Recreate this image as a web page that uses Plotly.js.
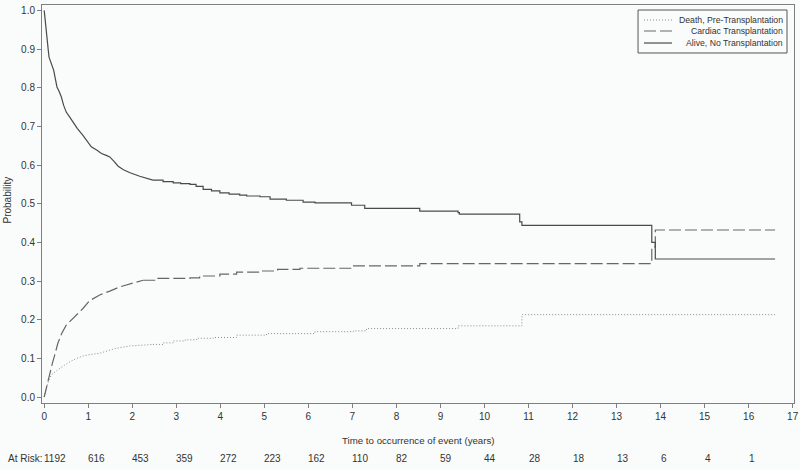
<!DOCTYPE html>
<html>
<head>
<meta charset="utf-8">
<script src="https://cdn.plot.ly/plotly-3.0.1.min.js"></script>
<style>html,body{margin:0;padding:0;background:#fafcfb;}#chart{width:800px;height:470px;}</style>
</head>
<body>
<div id="chart"></div>
<script>
// Alive, No Transplantation (solid)
const aliveT = [0, 0.03, 0.064, 0.09, 0.11, 0.16, 0.216, 0.25, 0.29, 0.34, 0.39, 0.44, 0.50, 0.58, 0.655, 0.75, 0.88, 0.96, 1.07, 1.2, 1.30, 1.41, 1.49, 1.58, 1.68, 1.8, 1.95, 2.17, 2.3, 2.47, 2.7, 2.93, 3.1, 3.31, 3.45, 3.61, 3.8, 3.99, 4.2, 4.44, 4.6, 4.90, 5.13, 5.5, 5.88, 6.15, 6.98, 7.28, 8.53, 9.40, 9.43, 10.80, 10.85, 13.80, 13.88, 16.6];
const aliveP = [1.0, 0.96, 0.931, 0.90, 0.879, 0.86, 0.845, 0.825, 0.802, 0.79, 0.776, 0.755, 0.737, 0.724, 0.711, 0.695, 0.677, 0.664, 0.647, 0.638, 0.630, 0.625, 0.621, 0.610, 0.597, 0.588, 0.580, 0.571, 0.566, 0.561, 0.557, 0.554, 0.552, 0.550, 0.545, 0.537, 0.533, 0.528, 0.525, 0.522, 0.520, 0.518, 0.512, 0.509, 0.504, 0.502, 0.496, 0.488, 0.481, 0.477, 0.473, 0.453, 0.444, 0.400, 0.357, 0.357];

// Cardiac Transplantation (dashed)
const cardT = [0, 0.03, 0.07, 0.125, 0.18, 0.24, 0.31, 0.4, 0.50, 0.58, 0.655, 0.77, 0.88, 1.03, 1.15, 1.26, 1.49, 1.72, 2.02, 2.25, 2.55, 3.31, 3.53, 3.99, 4.37, 4.90, 5.3, 5.81, 6.98, 8.53, 13.80, 13.88, 16.6];
const cardP = [0, 0.015, 0.035, 0.061, 0.085, 0.109, 0.139, 0.165, 0.186, 0.195, 0.203, 0.215, 0.229, 0.249, 0.257, 0.264, 0.274, 0.285, 0.295, 0.302, 0.307, 0.308, 0.313, 0.318, 0.323, 0.326, 0.330, 0.333, 0.339, 0.345, 0.388, 0.432, 0.432];

// Death, Pre-Transplantation (dotted)
const deathT = [0, 0.03, 0.08, 0.16, 0.25, 0.35, 0.46, 0.58, 0.72, 0.88, 1.05, 1.26, 1.45, 1.64, 1.94, 2.2, 2.47, 2.7, 2.93, 3.2, 3.46, 3.84, 4.37, 5.05, 6.15, 7.02, 7.32, 9.40, 10.85, 16.6];
const deathP = [0, 0.015, 0.035, 0.057, 0.066, 0.074, 0.082, 0.091, 0.099, 0.106, 0.110, 0.113, 0.120, 0.126, 0.132, 0.134, 0.136, 0.140, 0.145, 0.148, 0.152, 0.154, 0.160, 0.164, 0.169, 0.171, 0.177, 0.184, 0.213, 0.213];

// Number at risk
const riskTimes = [0, 1, 2, 3, 4, 5, 6, 7, 8, 9, 10, 11, 12, 13, 14, 15, 16];
const riskCounts = [1192, 616, 453, 359, 272, 223, 162, 110, 82, 59, 44, 28, 18, 13, 6, 4, 1];

const xTicks = [0,1,2,3,4,5,6,7,8,9,10,11,12,13,14,15,16,17];
const yTicks = [0,0.1,0.2,0.3,0.4,0.5,0.6,0.7,0.8,0.9,1.0];

const seriesNames = ['Death, Pre-Transplantation', 'Cardiac Transplantation', 'Alive, No Transplantation'];

const FONT = 'Liberation Sans, Arial, sans-serif';
const styles = [
  {color: '#8a8a8a', width: 1, dash: '1px,2px'},
  {color: '#666666', width: 1.2, dash: '12px,4px'},
  {color: '#4a4a4a', width: 1.2, dash: 'solid'}
];

// Early part (dense small steps) drawn as a joined line, later part as steps.
const SPLIT = 2.5;
const traces = [];
[[deathT, deathP], [cardT, cardP], [aliveT, aliveP]].forEach(([T, P], i) => {
  let k = 0;
  while (k + 1 < T.length && T[k + 1] <= SPLIT) k++;
  traces.push({x: T.slice(0, k + 1), y: P.slice(0, k + 1), mode: 'lines',
    line: Object.assign({shape: 'linear'}, styles[i]), name: seriesNames[i], hoverinfo: 'skip'});
  traces.push({x: T.slice(k), y: P.slice(k), mode: 'lines',
    line: Object.assign({shape: 'hv'}, styles[i]), name: seriesNames[i], hoverinfo: 'skip'});
});

const annotations = [];
const shapes = [];

// At-risk row
annotations.push({xref: 'paper', yref: 'paper', x: 0, y: -0.1382, xanchor: 'right', yanchor: 'middle',
  xshift: 2, text: 'At Risk:', showarrow: false, font: {family: FONT, size: 10, color: '#333'}});
riskTimes.forEach((t, i) => {
  annotations.push({xref: 'x', yref: 'paper', x: t, y: -0.1382, xanchor: 'left', yanchor: 'middle',
    xshift: -2, text: String(riskCounts[i]), showarrow: false, font: {family: FONT, size: 10, color: '#333'}});
});

// Axis titles
annotations.push({xref: 'paper', yref: 'paper', x: 0.5, y: -0.093, xanchor: 'center', yanchor: 'middle',
  text: 'Time to occurrence of event (years)', showarrow: false, font: {family: FONT, size: 9.7, color: '#333'}});
annotations.push({xref: 'paper', yref: 'paper', x: -0.0459, y: 0.51, xanchor: 'center', yanchor: 'middle',
  textangle: -90, text: 'Probability', showarrow: false, font: {family: FONT, size: 10, color: '#333'}});

// Custom legend (box, line samples, right-aligned text)
shapes.push({type: 'rect', xref: 'paper', yref: 'paper', x0: 0.7926, x1: 0.9907, y0: 0.8794, y1: 0.9874,
  line: {color: '#555', width: 1}, fillcolor: 'rgba(0,0,0,0)'});
const rowY = [0.9623, 0.9347, 0.9045];
seriesNames.forEach((n, i) => {
  shapes.push({type: 'line', xref: 'paper', yref: 'paper', x0: 0.8005, x1: 0.8378, y0: rowY[i], y1: rowY[i],
    line: {color: styles[i].color, width: styles[i].width, dash: styles[i].dash}});
  annotations.push({xref: 'paper', yref: 'paper', x: 0.9880, y: rowY[i], xanchor: 'right', yanchor: 'middle',
    text: n, showarrow: false, font: {family: FONT, size: 8.7, color: '#333'}});
});

const layout = {
  width: 800, height: 470,
  margin: {l: 42, r: 6, t: 5, b: 67, pad: 0},
  paper_bgcolor: '#fafcfb', plot_bgcolor: '#fafcfb',
  showlegend: false,
  font: {family: FONT, size: 10, color: '#333'},
  xaxis: {
    range: [-0.05, 17.03], tickvals: xTicks, ticktext: xTicks.map(String),
    showgrid: false, zeroline: false, showline: true, mirror: true, linecolor: '#7f7f7f', linewidth: 1,
    ticks: 'outside', ticklen: 4, tickcolor: '#7f7f7f', tickfont: {family: FONT, size: 10, color: '#333'}
  },
  yaxis: {
    range: [-0.0155, 1.014], tickvals: yTicks, ticktext: yTicks.map(v => v.toFixed(1)),
    showgrid: false, zeroline: false, showline: true, mirror: true, linecolor: '#7f7f7f', linewidth: 1,
    ticks: 'outside', ticklen: 4, tickcolor: '#7f7f7f', tickfont: {family: FONT, size: 10, color: '#333'}
  },
  annotations: annotations,
  shapes: shapes
};

Plotly.newPlot('chart', traces, layout, {staticPlot: true, displayModeBar: false});
</script>
</body>
</html>
